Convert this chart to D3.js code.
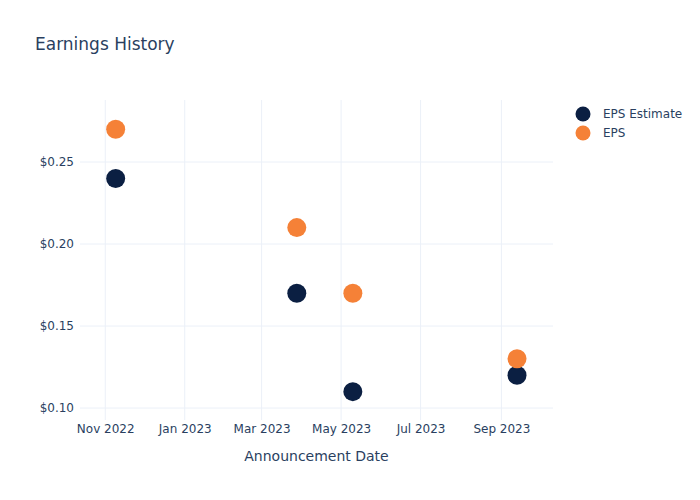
<!DOCTYPE html>
<html><head><meta charset="utf-8">
<script src="https://cdn.jsdelivr.net/npm/d3@7"></script>
<style>body{margin:0;background:#fff;} text{font-family:"DejaVu Sans",verdana,arial,sans-serif;}</style>
</head><body><svg id="c" width="700" height="500"></svg>
<script>
const dates = ["2022-11-09","2023-03-28","2023-05-10","2023-09-13"];
const epsEstimate = [0.24, 0.17, 0.11, 0.12];
const eps = [0.27, 0.21, 0.17, 0.13];
const seriesNames = ["EPS Estimate", "EPS"];
const seriesColors = ["#0b1f42", "#f58137"];
const xTickDates = ["2022-11-01","2023-01-01","2023-03-01","2023-05-01","2023-07-01","2023-09-01"];
const yTicks = [0.10, 0.15, 0.20, 0.25];

const parse = d3.utcParse("%Y-%m-%d");
const svg = d3.select("#c");
const m = {l:80, r:147, t:100, b:80};
const W = 700, H = 500;
const x = d3.scaleUtc().domain([parse("2022-10-13"), parse("2023-10-11")]).range([m.l + 0.5, W - m.r + 0.5]);
const y = d3.scaleLinear().domain([0.0921, 0.2872]).range([H - m.b + 1, m.t + 1]);
const ink = "#2a3f5f", grid = "#ebf0f8";

svg.append("g").selectAll("line").data(xTickDates).join("line")
  .attr("x1", d => x(parse(d))).attr("x2", d => x(parse(d)))
  .attr("y1", m.t).attr("y2", H - m.b).attr("stroke", grid).attr("stroke-width", 1);
svg.append("g").selectAll("line").data(yTicks).join("line")
  .attr("x1", m.l).attr("x2", W - m.r)
  .attr("y1", d => y(d)).attr("y2", d => y(d)).attr("stroke", grid).attr("stroke-width", 1);

const xAxis = d3.axisBottom(x).tickValues(xTickDates.map(parse)).tickFormat(d3.utcFormat("%b %Y")).tickSize(0).tickPadding(4);
const gx = svg.append("g").attr("transform", `translate(0,${H - m.b})`).call(xAxis);
gx.select(".domain").remove();
gx.selectAll("text").attr("fill", ink).style("font-size", "12px");

const yAxis = d3.axisLeft(y).tickValues(yTicks).tickFormat(d => "$" + d3.format(".2f")(d)).tickSize(0).tickPadding(6);
const gy = svg.append("g").attr("transform", `translate(${m.l},0)`).call(yAxis);
gy.select(".domain").remove();
gy.selectAll("text").attr("fill", ink).style("font-size", "12px");

const series = [epsEstimate, eps];
series.forEach((vals, i) => {
  svg.append("g").selectAll("circle").data(vals).join("circle")
    .attr("cx", (d, j) => x(parse(dates[j]))).attr("cy", d => y(d))
    .attr("r", 9.5).attr("fill", seriesColors[i]);
});

svg.append("text").attr("x", 35).attr("y", 50).attr("fill", ink).style("font-size", "17px").text("Earnings History");
svg.append("text").attr("x", (m.l + W - m.r) / 2).attr("y", 461).attr("text-anchor", "middle")
  .attr("fill", ink).style("font-size", "14px").text("Announcement Date");

const lg = svg.append("g");
seriesNames.forEach((n, i) => {
  const yy = 114 + i * 19;
  lg.append("circle").attr("cx", 583).attr("cy", yy).attr("r", 7.5).attr("fill", seriesColors[i]);
  lg.append("text").attr("x", 603).attr("y", yy + 4).attr("fill", ink).style("font-size", "12px").text(n);
});
</script></body></html>
